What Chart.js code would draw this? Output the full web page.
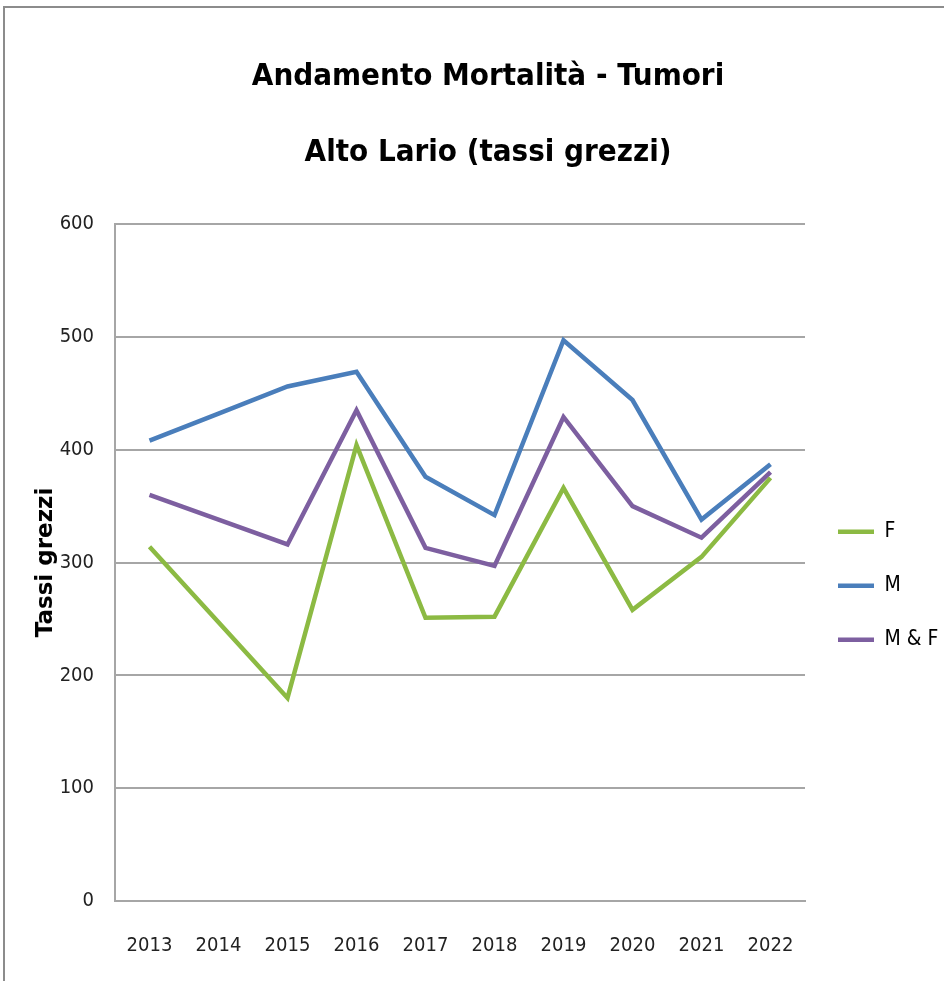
<!DOCTYPE html>
<html>
<head>
<meta charset="utf-8">
<script src="https://cdn.jsdelivr.net/npm/chart.js@4"></script>
<style>
  html, body { margin: 0; padding: 0; background: #fff; }
  #wrap { width: 944px; height: 981px; }
</style>
</head>
<body>
<div id="wrap"><canvas id="myChart" width="944" height="981"></canvas></div>
<script>
const years = ['2013', '2014', '2015', '2016', '2017', '2018', '2019', '2020', '2021', '2022'];
const femmine = [314, 247, 180, 404, 251, 252, 366, 258, 305, 375];
const maschi = [408, 432, 456, 469, 376, 342, 497, 444, 338, 387];
const totale = [360, 338, 316, 435, 313, 297, 429, 350, 322, 380];
const yTicks = [0, 100, 200, 300, 400, 500, 600];

const narrow = '"DejaVu Sans Condensed", Lato, sans-serif';

// frame around the whole chart, like the spreadsheet chart border
const frame = {
    id: 'frame',
    beforeDraw(chart) {
        const c = chart.ctx;
        c.save();
        c.fillStyle = '#fff';
        c.fillRect(0, 0, chart.width, chart.height);
        c.strokeStyle = '#8c8c8c';
        c.lineWidth = 2;
        c.strokeRect(4, 7, chart.width + 20, chart.height + 20);
        c.restore();
    }
};

const ctx = document.getElementById('myChart');
new Chart(ctx, {
    type: 'line',
    data: {
        labels: years,
        datasets: [
            { label: 'F', data: femmine, borderColor: '#8cba43', backgroundColor: '#8cba43', borderWidth: 4.5, pointRadius: 0, tension: 0 },
            { label: 'M', data: maschi, borderColor: '#4a7ebb', backgroundColor: '#4a7ebb', borderWidth: 4.5, pointRadius: 0, tension: 0 },
            { label: 'M & F', data: totale, borderColor: '#7d5fa0', backgroundColor: '#7d5fa0', borderWidth: 4.5, pointRadius: 0, tension: 0 }
        ]
    },
    options: {
        responsive: false,
        animation: false,
        layout: { padding: { top: 39, left: 32, right: 0, bottom: 0 } },
        scales: {
            x: {
                offset: true,
                afterFit: (axis) => { axis.height = 80; },
                grid: { display: false, drawTicks: false },
                border: { color: '#a6a6a6', width: 2 },
                ticks: { color: '#222', font: { family: narrow, size: 20 }, padding: 33, maxRotation: 0 }
            },
            y: {
                min: 0,
                max: 600,
                afterBuildTicks: (axis) => { axis.ticks = yTicks.map(v => ({ value: v })); },
                afterFit: (axis) => { axis.width = 83; },
                grid: { color: '#a6a6a6', lineWidth: 2, drawTicks: false },
                border: { color: '#a6a6a6', width: 2 },
                ticks: { color: '#222', font: { family: narrow, size: 20 }, padding: 21 },
                title: {
                    display: true,
                    text: 'Tassi grezzi',
                    color: '#000',
                    font: { family: '"DejaVu Sans", Verdana, sans-serif', size: 23, weight: 'bold' },
                    padding: 0
                }
            }
        },
        plugins: {
            title: {
                display: true,
                text: ['Andamento Mortalità - Tumori', 'Alto Lario (tassi grezzi)'],
                color: '#000',
                font: { family: narrow, size: 31, weight: 'bold', lineHeight: 76 / 31 },
                padding: { top: 0, bottom: 33 }
            },
            legend: {
                position: 'right',
                fullSize: false,
                maxWidth: 139,
                title: { display: true, text: ' ', font: { size: 12, lineHeight: 1.2 }, padding: 16 },
                labels: {
                    usePointStyle: true,
                    pointStyle: 'line',
                    pointStyleWidth: 36,
                    color: '#000',
                    font: { family: narrow, size: 21 },
                    padding: 33
                }
            },
            tooltip: { enabled: false }
        }
    },
    plugins: [frame]
});
</script>
</body>
</html>
